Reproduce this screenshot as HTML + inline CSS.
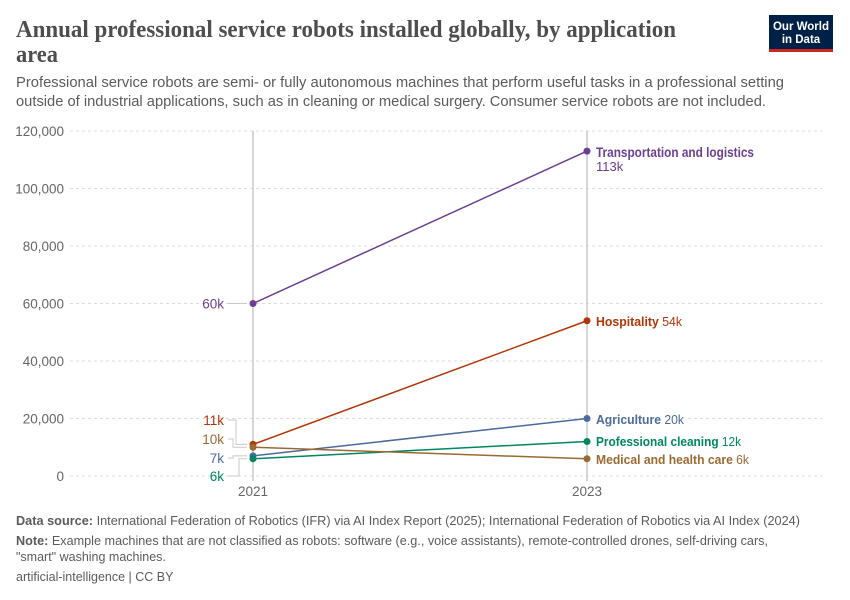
<!DOCTYPE html>
<html><head><meta charset="utf-8"><style>
html,body{margin:0;padding:0;background:#fff;}
svg{display:block;}
</style></head><body>
<svg width="850" height="600" viewBox="0 0 850 600" xmlns="http://www.w3.org/2000/svg" font-family="'Liberation Sans', sans-serif">
<rect width="850" height="600" fill="#fff"/>
<!-- Title -->
<text x="16" y="37" font-family="'Liberation Serif', serif" font-weight="bold" font-size="24" fill="#4e4e4e" textLength="660" lengthAdjust="spacingAndGlyphs">Annual professional service robots installed globally, by application</text>
<text x="16" y="62" font-family="'Liberation Serif', serif" font-weight="bold" font-size="24" fill="#4e4e4e" textLength="42" lengthAdjust="spacingAndGlyphs">area</text>
<!-- Subtitle -->
<text x="16" y="87" font-size="14.5" fill="#5b5b5b" textLength="768" lengthAdjust="spacingAndGlyphs">Professional service robots are semi- or fully autonomous machines that perform useful tasks in a professional setting</text>
<text x="16" y="106" font-size="14.5" fill="#5b5b5b" textLength="750" lengthAdjust="spacingAndGlyphs">outside of industrial applications, such as in cleaning or medical surgery. Consumer service robots are not included.</text>
<!-- Logo -->
<rect x="769" y="15" width="64" height="34" fill="#002147"/>
<rect x="769" y="49" width="64" height="3" fill="#ce261e"/>
<text x="801" y="30" font-size="11.5" font-weight="bold" fill="#fff" text-anchor="middle">Our World</text>
<text x="801" y="43" font-size="11.5" font-weight="bold" fill="#fff" text-anchor="middle">in Data</text>
<!-- Grid -->
<g stroke="#dddddd" stroke-width="1" stroke-dasharray="3,3">
<line x1="70" y1="131" x2="822" y2="131"/>
<line x1="70" y1="188.5" x2="822" y2="188.5"/>
<line x1="70" y1="246" x2="822" y2="246"/>
<line x1="70" y1="303.5" x2="822" y2="303.5"/>
<line x1="70" y1="361" x2="822" y2="361"/>
<line x1="70" y1="418.5" x2="822" y2="418.5"/>
<line x1="70" y1="476" x2="822" y2="476"/>
</g>
<rect x="593" y="410" width="94" height="17" fill="#fff"/>
<g font-size="13.5" fill="#666" text-anchor="end">
<text x="64" y="136">120,000</text>
<text x="64" y="193.5">100,000</text>
<text x="64" y="251">80,000</text>
<text x="64" y="308.5">60,000</text>
<text x="64" y="366">40,000</text>
<text x="64" y="423.5">20,000</text>
<text x="64" y="481">0</text>
</g>
<!-- Vertical lines -->
<line x1="253" y1="131" x2="253" y2="481" stroke="#c8c8c8" stroke-width="1.5"/>
<line x1="587" y1="131" x2="587" y2="481" stroke="#c8c8c8" stroke-width="1.5"/>
<g font-size="13.5" fill="#666" text-anchor="middle">
<text x="253" y="496">2021</text>
<text x="587" y="496">2023</text>
</g>
<!-- Series lines -->
<g stroke-width="1.5" fill="none">
<line x1="253" y1="303.5" x2="587" y2="151.1" stroke="#6d3e91"/>
<line x1="253" y1="444.4" x2="587" y2="320.75" stroke="#b13507"/>
<line x1="253" y1="455.9" x2="587" y2="418.5" stroke="#4c6a9c"/>
<line x1="253" y1="458.75" x2="587" y2="441.5" stroke="#00875e"/>
<line x1="253" y1="447.25" x2="587" y2="458.75" stroke="#9a6a33"/>
</g>
<g>
<circle cx="253" cy="303.5" r="3.5" fill="#6d3e91"/>
<circle cx="587" cy="151.1" r="3.5" fill="#6d3e91"/>
<circle cx="253" cy="444.4" r="3.5" fill="#b13507"/>
<circle cx="587" cy="320.75" r="3.5" fill="#b13507"/>
<circle cx="253" cy="455.9" r="3.5" fill="#4c6a9c"/>
<circle cx="587" cy="418.5" r="3.5" fill="#4c6a9c"/>
<circle cx="253" cy="447.25" r="3.5" fill="#9a6a33"/>
<circle cx="587" cy="458.75" r="3.5" fill="#9a6a33"/>
<circle cx="253" cy="458.75" r="3.5" fill="#00875e"/>
<circle cx="587" cy="441.5" r="3.5" fill="#00875e"/>
</g>
<!-- Left labels -->
<g stroke="#c8c8c8" stroke-width="1" fill="none">
<line x1="228" y1="303.5" x2="247" y2="303.5"/>
<polyline points="228,420 236,420 236,444.4 247,444.4"/>
<polyline points="228,439 233,439 233,447.25 247,447.25"/>
<polyline points="228,458 233,458 233,455.9 247,455.9"/>
<polyline points="228,476 239,476 239,458.75 247,458.75"/>
</g>
<g font-size="13.5" text-anchor="end">
<text x="224" y="308.5" fill="#6d3e91">60k</text>
<text x="224" y="425" fill="#b13507">11k</text>
<text x="224" y="444" fill="#9a6a33">10k</text>
<text x="224" y="463" fill="#4c6a9c">7k</text>
<text x="224" y="481" fill="#00875e">6k</text>
</g>
<!-- Right labels -->
<g font-size="13">
<text x="596" y="157" fill="#6d3e91" font-weight="bold" font-size="13.5" textLength="158" lengthAdjust="spacingAndGlyphs">Transportation and logistics</text>
<text x="596" y="171" fill="#6d3e91">113k</text>
<text x="596" y="326" fill="#b13507" textLength="86" lengthAdjust="spacingAndGlyphs"><tspan font-weight="bold">Hospitality</tspan> 54k</text>
<text x="596" y="424" fill="#4c6a9c" textLength="88" lengthAdjust="spacingAndGlyphs"><tspan font-weight="bold">Agriculture</tspan> 20k</text>
<text x="596" y="446" fill="#00875e" textLength="145" lengthAdjust="spacingAndGlyphs"><tspan font-weight="bold">Professional cleaning</tspan> 12k</text>
<text x="596" y="464" fill="#9a6a33" textLength="153" lengthAdjust="spacingAndGlyphs"><tspan font-weight="bold">Medical and health care</tspan> 6k</text>
</g>
<!-- Footer -->
<text x="16" y="525" font-size="12.5" fill="#5b5b5b" textLength="784" lengthAdjust="spacingAndGlyphs"><tspan font-weight="bold">Data source:</tspan> International Federation of Robotics (IFR) via AI Index Report (2025); International Federation of Robotics via AI Index (2024)</text>
<text x="16" y="545" font-size="12.5" fill="#5b5b5b" textLength="752" lengthAdjust="spacingAndGlyphs"><tspan font-weight="bold">Note:</tspan> Example machines that are not classified as robots: software (e.g., voice assistants), remote-controlled drones, self-driving cars,</text>
<text x="16" y="561" font-size="12.5" fill="#5b5b5b">"smart" washing machines.</text>
<text x="16" y="581" font-size="12.5" fill="#5b5b5b">artificial-intelligence | CC BY</text>
</svg>
</body></html>
